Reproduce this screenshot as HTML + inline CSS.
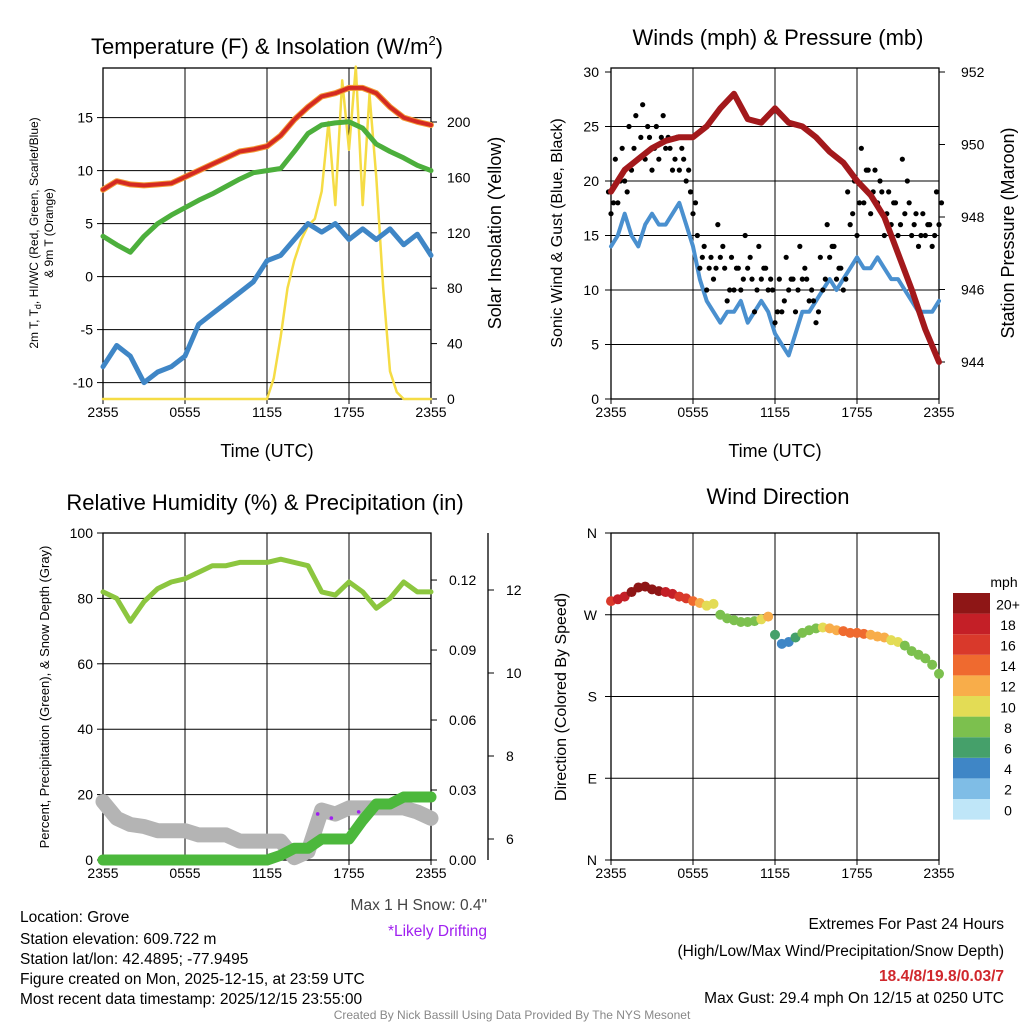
<!DOCTYPE html>
<html><head><meta charset="utf-8"><style>
body{margin:0;background:#fff;}
svg{display:block;font-family:"Liberation Sans",Arial,sans-serif;}
</style></head><body>
<svg id="s" width="1024" height="1024" viewBox="0 0 1024 1024">
<g id="g1"></g>
<g id="g2"></g>
<g id="g3"></g>
<g id="g4"></g>
<g font-size="15.5" fill="#000">
<text x="20" y="922">Location: Grove</text>
<text x="20" y="944">Station elevation: 609.722 m</text>
<text x="20" y="964">Station lat/lon: 42.4895; -77.9495</text>
<text x="20" y="984">Figure created on Mon, 2025-12-15, at 23:59 UTC</text>
<text x="20" y="1004">Most recent data timestamp: 2025/12/15 23:55:00</text>
<text x="487" y="910" text-anchor="end" fill="#444">Max 1 H Snow: 0.4"</text>
<text x="487" y="936" text-anchor="end" fill="#a020f0">*Likely Drifting</text>
<text x="1004" y="929" text-anchor="end">Extremes For Past 24 Hours</text>
<text x="1004" y="956" text-anchor="end">(High/Low/Max Wind/Precipitation/Snow Depth)</text>
<text x="1004" y="981" text-anchor="end" fill="#d0282d" font-weight="bold">18.4/8/19.8/0.03/7</text>
<text x="1004" y="1003" text-anchor="end">Max Gust: 29.4 mph On 12/15 at 0250 UTC</text>
<text x="512" y="1019" text-anchor="middle" font-size="12" fill="#888">Created By Nick Bassill Using Data Provided By The NYS Mesonet</text>
</g>
</svg>
<script>
const xTicks=["2355","0555","1155","1755","2355"];
// Panel 1 data (hourly)
const tempRed=[8.2,9.0,8.7,8.6,8.7,8.8,9.4,10.0,10.6,11.2,11.8,12.0,12.3,13.3,14.8,16.0,17.0,17.3,17.8,17.8,17.3,16.0,15.0,14.6,14.3];
const dewGreen=[3.8,3.0,2.3,3.8,5.0,5.8,6.5,7.2,7.8,8.5,9.2,9.8,10.0,10.2,11.8,13.5,14.3,14.5,14.6,14.0,12.5,11.8,11.2,10.5,10.0];
const chillBlue=[-8.5,-6.5,-7.5,-10,-9,-8.5,-7.5,-4.5,-3.5,-2.5,-1.5,-0.5,1.5,2.0,3.5,5.0,4.2,5.0,3.5,4.5,3.5,4.5,3.0,4.0,2.0];
const solar=[0,0,0,0,0,0,0,0,0,0,0,0,0,0,0,0,0,0,0,0,0,0,0,0,0,15,45,80,100,115,125,130,150,200,140,230,180,240,140,220,160,80,20,5,0,0,0,0,0];
const tempTicks=[-10,-5,0,5,10,15];
const solarTicks=[0,40,80,120,160,200];
// Panel 2 data
const pressure=[948.7,949.3,949.6,949.9,950.1,950.2,950.2,950.5,951.0,951.4,950.7,950.6,951.0,950.6,950.5,950.2,949.8,949.5,949.0,948.6,948.0,947.0,946.0,944.9,944.0];
const windSpeed=[14,15,17,15,14,16,17,16,16,17,18,16,14,11,9,8,7,8,8,9,7,8,9,8,6,5,4,6,8,8,9,10,11,10,11,12,13,12,12,13,12,11,11,10,9,8,8,8,9];
const gustHigh=[19,22,23,25,26,27,24,25,26,23,24,22,19,15,14,13,16,12,13,12,15,11,14,12,10,11,13,11,14,11,9,13,16,14,12,19,20,23,21,21,19,19,18,22,18,17,17,16,19];
const gustLow=[17,18,20,21,22,22,21,22,23,21,21,20,17,12,10,11,13,9,10,10,12,8,11,10,7,8,10,8,11,9,7,10,13,11,10,16,15,18,17,18,15,16,15,17,15,14,15,14,16];
const gustMid=[18,20,19,23,24,25,23,24,24,22,23,21,18,13,12,12,14,10,12,11,13,10,12,11,8,9,11,10,12,10,8,11,14,12,11,17,18,21,19,20,17,18,16,20,16,15,16,15,18];
const windTicks=[0,5,10,15,20,25,30];
const presTicks=[944,946,948,950,952];
// Panel 3 data
const rh=[82,80,73,79,83,85,86,88,90,90,91,91,91,92,91,90,82,81,85,82,77,80,85,82,82];
const precip=[0,0,0,0,0,0,0,0,0,0,0,0,0,0.002,0.005,0.005,0.009,0.009,0.009,0.017,0.024,0.024,0.027,0.027,0.027];
const snow=[6.9,6.5,6.35,6.3,6.2,6.2,6.2,6.1,6.1,6.1,5.95,5.95,5.95,5.95,5.55,5.7,6.7,6.6,6.75,6.75,6.75,6.75,6.75,6.65,6.5];
const rhTicks=[0,20,40,60,80,100];
const precipTicks=["0.00","0.03","0.06","0.09","0.12"];
const snowTicks=[6,8,10,12];
// Panel 4 data (half-hourly)
const dir=[285,287,290,295,300,301,298,296,295,293,290,288,285,283,280,282,270,266,264,262,262,263,265,268,248,238,240,245,250,253,255,256,255,253,252,250,250,249,248,246,245,242,240,236,230,226,222,215,205];
const spd=[16,17,18,19,20,20,20,20,18,17,16,15,14,12,10,9,8,7,7,7,7,8,10,11,6,4,4,5,7,8,8,10,11,12,13,14,14,13,12,12,11,10,9,8,8,7,7,8,8];
const dirTicks=["N","E","S","W","N"];
const cbLabels=["0","2","4","6","8","10","12","14","16","18","20+"];
const cbColors=["#bfe6f8","#7fbde6","#3f86c6","#45a06a","#7cc04e","#e3dc55","#f8ad4a","#ef6a2f","#d9392b","#c41f27","#8e1616"];

const NS="http://www.w3.org/2000/svg";
function el(p,t,a){const e=document.createElementNS(NS,t);for(const k in a)e.setAttribute(k,a[k]);p.appendChild(e);return e;}
function txt(p,x,y,s,a){const e=el(p,"text",Object.assign({x:x,y:y},a||{}));e.textContent=s;return e;}

function frame(g,x0,y0,x1,y1){
  for(let i=1;i<4;i++){const x=x0+(x1-x0)*i/4;const l=el(g,"line",{x1:x,x2:x,y1:y0,y2:y1,stroke:"#000","stroke-width":1});
    
    }
  const r=el(g,"rect",{x:x0,y:y0,width:x1-x0,height:y1-y0,fill:"none",stroke:"#000","stroke-width":1.3});
  
  
  xTicks.forEach((t,i)=>{const x=x0+(x1-x0)*i/4;el(g,"line",{x1:x,x2:x,y1:y1,y2:y1+5,stroke:"#000"});
    const e=txt(g,x,y1+18,t,{"text-anchor":"middle","font-size":14});
    
    });
}
function hx(x0,x1,n,i){return x0+(x1-x0)*i/(n-1);}
function path(g,arr,fx,fy,a,name){let d="";arr.forEach((v,i)=>{d+=(i?"L":"M")+fx(i,arr.length).toFixed(1)+","+fy(v).toFixed(1);});
  const p=el(g,"path",Object.assign({d:d,fill:"none","stroke-linejoin":"round","stroke-linecap":"round"},a));
  
  return p;}

// ---- Panel 1
(function(){
const g=document.getElementById("g1");const X0=103,X1=431,Y0=68,Y1=399;
const fy=v=>276.6-v*10.6, sy=v=>399-v*1.385, fx=(i,n)=>hx(X0,X1,n,i);
tempTicks.forEach(v=>{const y=fy(v);el(g,"line",{x1:X0,x2:X1,y1:y,y2:y,stroke:"#000"});el(g,"line",{x1:X0-6,x2:X0,y1:y,y2:y,stroke:"#000"});
  const e=txt(g,X0-10,y+5,v,{"text-anchor":"end","font-size":14});});
solarTicks.forEach(v=>{const y=sy(v);el(g,"line",{x1:X1,x2:X1+6,y1:y,y2:y,stroke:"#000"});
  const e=txt(g,X1+16,y+5,v,{"font-size":14});});
frame(g,X0,Y0,X1,Y1);
path(g,solar,fx,sy,{stroke:"#f5dc45","stroke-width":2.5},"solar-line");
path(g,chillBlue,fx,fy,{stroke:"#3f86c6","stroke-width":5},"windchill-line");
path(g,dewGreen,fx,fy,{stroke:"#4caf3c","stroke-width":5},"dewpoint-line");
path(g,tempRed,fx,fy,{stroke:"#f39a35","stroke-width":6},"temp-9m-line");
path(g,tempRed,fx,fy,{stroke:"#d42a22","stroke-width":4},"temp-2m-line");
let t=txt(g,267,54,"Temperature (F) & Insolation (W/m",{"text-anchor":"middle","font-size":22});
const ts=el(t,"tspan",{"font-size":13,dy:-9});ts.textContent="2";const t2=el(t,"tspan",{dy:9});t2.textContent=")";

t=txt(g,267,457,"Time (UTC)",{"text-anchor":"middle","font-size":18});
t=txt(g,0,0,"2m T, T",{"font-size":12,transform:"translate(38,233) rotate(-90)","text-anchor":"middle"});
const s1=el(t,"tspan",{"font-size":9,dy:3});s1.textContent="d";const s2=el(t,"tspan",{dy:-3});s2.textContent=", HI/WC (Red, Green, Scarlet/Blue)";

t=txt(g,0,0,"& 9m T (Orange)",{"font-size":12,transform:"translate(53,233) rotate(-90)","text-anchor":"middle"});
t=txt(g,0,0,"Solar Insolation (Yellow)",{"font-size":18,transform:"translate(501,233) rotate(-90)","text-anchor":"middle"});
})();

// ---- Panel 2
(function(){
const g=document.getElementById("g2");const X0=611,X1=939,Y0=68,Y1=399;
const wy=v=>399-v*10.9, py=v=>362-(v-944)*36.25, fx=(i,n)=>hx(X0,X1,n,i);
windTicks.forEach(v=>{const y=wy(v);if(v>0&&v<30)el(g,"line",{x1:X0,x2:X1,y1:y,y2:y,stroke:"#000"});el(g,"line",{x1:X0-6,x2:X0,y1:y,y2:y,stroke:"#000"});
  const e=txt(g,X0-12,y+5,v,{"text-anchor":"end","font-size":14});});
presTicks.forEach(v=>{const y=py(v);el(g,"line",{x1:X1,x2:X1+6,y1:y,y2:y,stroke:"#000"});
  const e=txt(g,X1+22,y+5,v,{"font-size":14});});
frame(g,X0,Y0,X1,Y1);
path(g,windSpeed,fx,wy,{stroke:"#4a90cf","stroke-width":4},"sonic-wind-line");
[gustHigh,gustLow,gustMid].forEach((arr,k)=>arr.forEach((v,i)=>{const c=el(g,"circle",{cx:fx(i,arr.length)+(k-1)*2.5,cy:wy(v),r:2.6,fill:"#000"});
  }));
path(g,pressure,fx,py,{stroke:"#a3191c","stroke-width":6},"pressure-line");
let t=txt(g,778,45,"Winds (mph) & Pressure (mb)",{"text-anchor":"middle","font-size":22});
t=txt(g,775,457,"Time (UTC)",{"text-anchor":"middle","font-size":18});
t=txt(g,0,0,"Sonic Wind & Gust (Blue, Black)",{"font-size":16,transform:"translate(562,233) rotate(-90)","text-anchor":"middle"});
t=txt(g,0,0,"Station Pressure (Maroon)",{"font-size":18,transform:"translate(1014,233) rotate(-90)","text-anchor":"middle"});
})();

// ---- Panel 3
(function(){
const g=document.getElementById("g3");const X0=103,X1=431,Y0=533,Y1=860;
const ry=v=>860-v*3.27, py=v=>860-v*2333, sy=v=>839-(v-6)*41.5, fx=(i,n)=>hx(X0,X1,n,i);
rhTicks.forEach(v=>{const y=ry(v);if(v>0&&v<100)el(g,"line",{x1:X0,x2:X1,y1:y,y2:y,stroke:"#000"});el(g,"line",{x1:X0-6,x2:X0,y1:y,y2:y,stroke:"#000"});
  const e=txt(g,X0-10,y+5,v,{"text-anchor":"end","font-size":14});});
precipTicks.forEach(v=>{const y=py(+v);el(g,"line",{x1:X1,x2:X1+6,y1:y,y2:y,stroke:"#000"});
  const e=txt(g,X1+18,y+5,v,{"font-size":14});});
el(g,"line",{x1:488,x2:488,y1:Y0,y2:Y1,stroke:"#000","stroke-width":1.3});
snowTicks.forEach(v=>{const y=sy(v);el(g,"line",{x1:488,x2:494,y1:y,y2:y,stroke:"#000"});
  const e=txt(g,506,y+5,v,{"font-size":14});});
frame(g,X0,Y0,X1,Y1);
path(g,snow,fx,sy,{stroke:"#b4b4b4","stroke-width":15},"snow-depth-line");
snow.forEach((v,i)=>{if(i==16||i==17||i==19){const c=el(g,"circle",{cx:fx(i,snow.length)-4,cy:sy(v)+4,r:1.8,fill:"#a020f0"});
  }});
path(g,precip,fx,py,{stroke:"#4cb83c","stroke-width":11},"precip-line");
path(g,rh,fx,ry,{stroke:"#8cc63f","stroke-width":5},"rh-line");
let t=txt(g,265,510,"Relative Humidity (%) & Precipitation (in)",{"text-anchor":"middle","font-size":22});
t=txt(g,0,0,"Percent, Precipitation (Green), & Snow Depth (Gray)",{"font-size":13,transform:"translate(49,697) rotate(-90)","text-anchor":"middle"});
})();

// ---- Panel 4
(function(){
const g=document.getElementById("g4");const X0=611,X1=939,Y0=533,Y1=860;
const dy=v=>860-v*327/360, fx=(i,n)=>hx(X0,X1,n,i);
dirTicks.forEach((v,i)=>{const y=Y1-i*(Y1-Y0)/4;if(i>0&&i<4)el(g,"line",{x1:X0,x2:X1,y1:y,y2:y,stroke:"#000"});el(g,"line",{x1:X0-6,x2:X0,y1:y,y2:y,stroke:"#000"});
  const e=txt(g,X0-14,y+5,v,{"text-anchor":"end","font-size":14});});
frame(g,X0,Y0,X1,Y1);
function col(s){return cbColors[Math.min(10,Math.max(0,Math.round(s/2)))];}
dir.forEach((v,i)=>{const c=el(g,"circle",{cx:fx(i,dir.length),cy:dy(v),r:5,fill:col(spd[i])});
  });
const bx=953,bw=37,bh=20.6,btop=593;
cbColors.forEach((c,i)=>{const y=btop+(10-i)*bh;const r=el(g,"rect",{x:bx,y:y,width:bw,height:bh,fill:c});
  
  const e=txt(g,1008,y+bh/2+6,cbLabels[i],{"text-anchor":"middle","font-size":14});});
let t=txt(g,1004,587,"mph",{"text-anchor":"middle","font-size":14});
t=txt(g,778,504,"Wind Direction",{"text-anchor":"middle","font-size":22});
t=txt(g,0,0,"Direction (Colored By Speed)",{"font-size":16,transform:"translate(566,697) rotate(-90)","text-anchor":"middle"});
})();
</script>
</body></html>
